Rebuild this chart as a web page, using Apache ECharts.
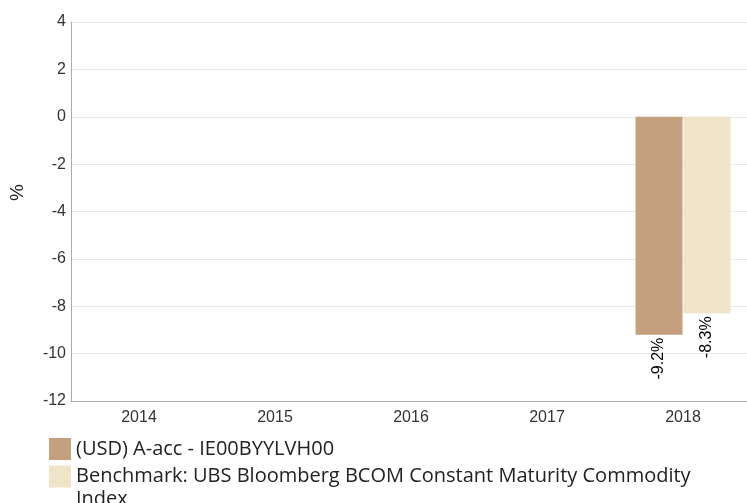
<!DOCTYPE html>
<html><head><meta charset="utf-8">
<script src="https://cdn.jsdelivr.net/npm/echarts@6/dist/echarts.min.js"></script>
<style>html,body{margin:0;padding:0;background:#fff}#c{width:747px;height:503px}</style>
</head><body><div id="c"></div>
<script>
const categories = ['2014', '2015', '2016', '2017', '2018'];
const fundValues = [null, null, null, null, -9.2];
const benchValues = [null, null, null, null, -8.3];
const yTicks = [4, 2, 0, -2, -4, -6, -8, -10, -12];
const fundName = '(USD) A-acc - IE00BYYLVH00';
const benchName = 'Benchmark: UBS Bloomberg BCOM Constant Maturity Commodity Index';

const chart = echarts.init(document.getElementById('c'), null, {renderer: 'canvas'});
const tickFont = 'Liberation Sans, Arial, sans-serif';
const labelCfg = {
  show: true, position: 'bottom', rotate: 90, align: 'right', verticalAlign: 'middle',
  distance: 3, color: '#000', fontSize: 16, fontFamily: tickFont,
  formatter: p => p.value + '%'
};
const legendText = {fontFamily: 'Open Sans, sans-serif', fontSize: 20, color: '#222'};
chart.setOption({
  animation: false,
  grid: {left: 71, right: -4, top: 22, height: 379, outerBoundsMode: 'none', containLabel: false},
  legend: [
    {
      left: 49, top: 438, padding: 0, itemWidth: 22, itemHeight: 22, icon: 'rect', selectedMode: false,
      textStyle: legendText, data: [{name: fundName}]
    },
    {
      left: 49, top: 442, padding: 0, itemWidth: 22, itemHeight: 22, icon: 'rect', selectedMode: false,
      textStyle: Object.assign({}, legendText, {lineHeight: 23}),
      formatter: () => '\nBenchmark: UBS Bloomberg BCOM Constant Maturity Commodity\nIndex',
      data: [{name: benchName}]
    }
  ],
  xAxis: {
    type: 'category', data: categories,
    axisLine: {onZero: false, lineStyle: {color: '#aaa'}}, axisTick: {show: false},
    axisLabel: {color: '#333', fontSize: 16, fontFamily: tickFont, margin: 9}
  },
  yAxis: {
    type: 'value', min: -12, max: 4, interval: 2,
    name: '%', nameLocation: 'middle', nameRotate: 90, nameGap: 44,
    nameTextStyle: {fontSize: 19, color: '#222', fontFamily: tickFont, padding: [0, 0, 0, 38]},
    axisLine: {show: true, lineStyle: {color: '#aaa'}}, axisTick: {show: false},
    axisLabel: {color: '#333', fontSize: 16, fontFamily: tickFont, margin: 5,
      formatter: v => yTicks.includes(v) ? String(v) : ''},
    splitLine: {lineStyle: {color: '#e8e8e8'}}
  },
  series: [
    {name: fundName, type: 'bar', data: fundValues, barWidth: 47, barGap: '2%',
     itemStyle: {color: '#c4a07f'}, label: labelCfg},
    {name: benchName, type: 'bar', data: benchValues, barWidth: 47, barGap: '2%',
     itemStyle: {color: '#efe3c9'}, label: labelCfg}
  ]
});
</script></body></html>
